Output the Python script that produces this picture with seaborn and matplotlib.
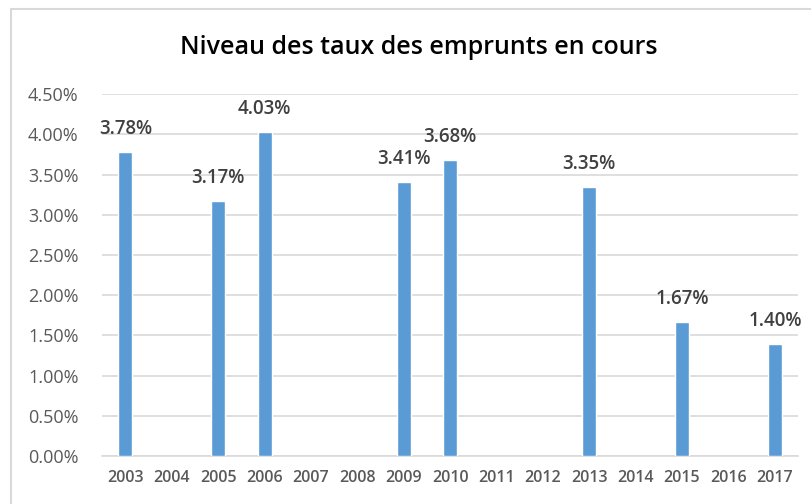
import numpy as np
import pandas as pd
import seaborn as sns
import matplotlib.pyplot as plt
from matplotlib.ticker import PercentFormatter
from matplotlib.lines import Line2D

sns.set_style("white")
plt.rcParams['font.family'] = ['Open Sans', 'DejaVu Sans']

all_years = [str(y) for y in range(2003, 2018)]
years = ["2003", "2005", "2006", "2009", "2010", "2013", "2015", "2017"]
taux = [3.78, 3.17, 4.03, 3.41, 3.68, 3.35, 1.67, 1.40]

df = pd.DataFrame({"annee": years, "taux": taux})

fig = plt.figure(figsize=(8.11, 5.04), dpi=100)
ax = fig.add_axes([0.126, 0.095, 0.858, 0.718])

sns.barplot(data=df, x="annee", y="taux", order=all_years, color="#5B9BD5",
            width=0.3, saturation=1, ax=ax, zorder=3)

for i, y in enumerate(all_years):
    if y in years:
        v = taux[years.index(y)]
        ax.text(i, v + 0.16, f"{v:.2f}%", ha="center", va="bottom",
                fontsize=13.5, fontweight="semibold", color="#404040")

ax.set_ylim(0, 4.5)
ax.set_yticks(np.arange(0, 4.51, 0.5))
ax.yaxis.set_major_formatter(PercentFormatter(decimals=2))
ax.grid(axis="y", color="#d9d9d9", linewidth=1.2, zorder=0)
ax.set_xlabel("")
ax.set_ylabel("")
for s in ["top", "right", "left"]:
    ax.spines[s].set_visible(False)
ax.spines["bottom"].set_color("#d9d9d9")
ax.spines["bottom"].set_linewidth(1.2)
ax.tick_params(axis="y", labelsize=13, labelcolor="#595959", length=0, pad=17)
ax.tick_params(axis="x", labelsize=11.5, labelcolor="#595959", length=0, pad=10)
for lab in ax.get_xticklabels():
    lab.set_fontweight("semibold")

fig.text(0.516, 0.905, "Niveau des taux des emprunts en cours", ha="center",
         va="center", fontsize=18, fontweight="semibold", color="black")

# chart frame, only left and top edges visible (image is cropped)
fig.add_artist(Line2D([0.0136, 0.0136], [0.0, 0.982], transform=fig.transFigure,
                      color="#d9d9d9", linewidth=1.5))
fig.add_artist(Line2D([0.0136, 1.0], [0.982, 0.982], transform=fig.transFigure,
                      color="#d9d9d9", linewidth=1.5))

fig.savefig("out.png", dpi=100)
